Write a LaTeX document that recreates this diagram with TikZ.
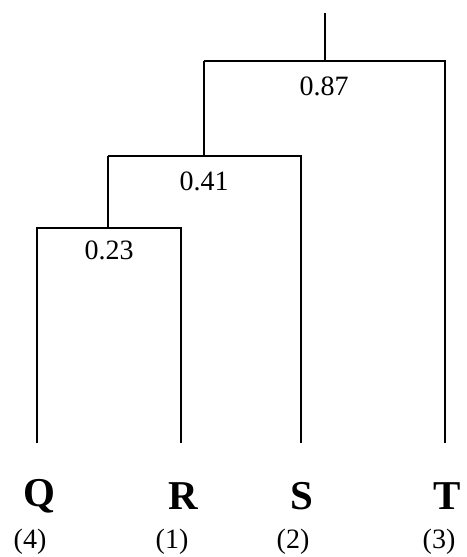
\documentclass[tikz,border=0pt]{standalone}
\usepackage{fontspec}
\setmainfont{Liberation Serif}
\begin{document}
\begin{tikzpicture}[x=1pt,y=-1pt,
  branch/.style={line width=2.6pt},
  dist/.style={font=\fontsize{28}{28}\selectfont, inner sep=0pt},
  leafname/.style={font=\fontsize{41}{41}\selectfont\bfseries, inner sep=0pt},
  leafnum/.style={font=\fontsize{28}{28}\selectfont, inner sep=0pt}]
\useasboundingbox (0,0) rectangle (466,557);
% leaf ends
\coordinate (q) at (37,443);
\coordinate (r) at (181,443);
\coordinate (s) at (301,443);
\coordinate (t) at (445,443);
% joins
\coordinate (qr) at (108,228);
\coordinate (qrs) at (204,156);
\coordinate (root) at (325,61);
\coordinate (top) at (325,13);
\draw[branch] (q) |- (qr) -| (r);
\draw[branch] (qr) -- (qr |- qrs);
\draw[branch] (qr |- qrs) -| (s);
\draw[branch] (qrs) -- (qrs |- root);
\draw[branch] (qrs |- root) -| (t);
\draw[branch] (root) -- (top);
% distance labels
\node[dist] (d1) at (109,250) {0.23};
\node[dist] (d2) at (204,181) {0.41};
\node[dist] (d3) at (324,86) {0.87};
% leaf labels
\node[leafname] (Q) at (39,496) {Q};
\node[leafname] (R) at (183,496) {R};
\node[leafname] (S) at (302,496) {S};
\node[leafname] (T) at (447,496) {T};
\node[leafnum] (n4) at (30,542) {(4)};
\node[leafnum] (n1) at (172,542) {(1)};
\node[leafnum] (n2) at (293,542) {(2)};
\node[leafnum] (n3) at (439,542) {(3)};
\end{tikzpicture}
\end{document}
